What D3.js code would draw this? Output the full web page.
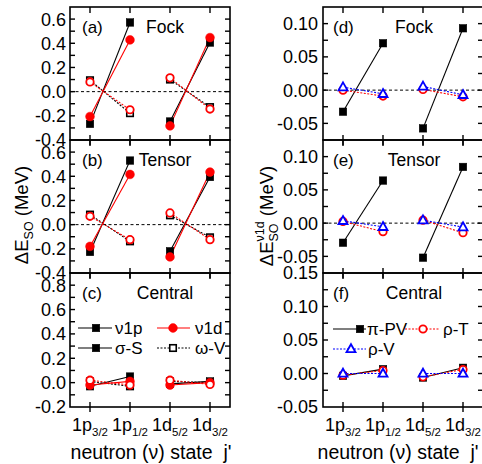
<!DOCTYPE html>
<html><head><meta charset="utf-8">
<script src="https://cdn.jsdelivr.net/npm/d3@7"></script>
<style>
html,body{margin:0;padding:0;background:#fff;}
svg{display:block;font-family:"Liberation Sans",Arial,sans-serif;}
</style></head>
<body><svg id="chart" width="482" height="464"></svg>
<script>
// ---------- data ----------
const xPositions = [1, 2, 3, 4];
const stateNames = ["1p", "1p", "1d", "1d"];
const stateSubs = ["3/2", "1/2", "5/2", "3/2"];
const panelTitles = ["Fock", "Tensor", "Central"];
const leftTags = ["(a)", "(b)", "(c)"];
const rightTags = ["(d)", "(e)", "(f)"];

// left column: ΔE_SO (MeV), black = ν1p, red = ν1d; solid = σ-S, dotted = ω-V
const fock_sigmaS_nu1p = [-0.267, 0.572, -0.247, 0.406];
const fock_sigmaS_nu1d = [-0.206, 0.428, -0.283, 0.447];
const fock_omegaV_nu1p = [0.094, -0.178, 0.100, -0.128];
const fock_omegaV_nu1d = [0.080, -0.150, 0.114, -0.144];
const tensor_sigmaS_nu1p = [-0.226, 0.530, -0.220, 0.394];
const tensor_sigmaS_nu1d = [-0.180, 0.415, -0.267, 0.435];
const tensor_omegaV_nu1p = [0.083, -0.138, 0.077, -0.105];
const tensor_omegaV_nu1d = [0.069, -0.124, 0.097, -0.124];
const central_sigmaS_nu1p = [-0.030, 0.050, -0.010, 0.010];
const central_sigmaS_nu1d = [-0.020, 0.010, -0.020, 0.000];
const central_omegaV_nu1p = [0.010, -0.030, 0.010, 0.000];
const central_omegaV_nu1d = [0.020, -0.020, 0.020, -0.015];

// right column: ΔE_SO^{ν1d} (MeV)
const fock_piPV = [-0.0325, 0.0705, -0.0575, 0.093];
const fock_rhoT = [0.000, -0.009, 0.001, -0.010];
const fock_rhoV = [0.0045, -0.0055, 0.0055, -0.007];
const tensor_piPV = [-0.0295, 0.064, -0.052, 0.0845];
const tensor_rhoT = [0.0025, -0.013, 0.0045, -0.0145];
const tensor_rhoV = [0.0035, -0.0055, 0.0045, -0.006];
const central_piPV = [-0.0035, 0.0065, -0.006, 0.0085];
const central_rhoT = [-0.0025, 0.0045, -0.005, 0.006];
const central_rhoV = [0.000, 0.000, 0.000, 0.000];

// tick labels
const leftTicksFT = [-0.4, -0.2, 0.0, 0.2, 0.4, 0.6];
const leftTicksC = [-0.2, 0.0, 0.2, 0.4, 0.6, 0.8];
const rightTicksFT = [-0.05, 0.00, 0.05, 0.10];
const rightTicksC = [-0.05, 0.00, 0.05, 0.10, 0.15];

// ---------- layout ----------
const svg = d3.select("#chart");
const FONT = 17;
const TICKFONT = 18;
const rowTop = [7, 140, 273];
const rowBot = [140, 273, 407];
const xLeft = d3.scaleLinear().domain([0.5, 4.5]).range([70, 230]);
const xRight = d3.scaleLinear().domain([0.5, 4.5]).range([323, 483]);

const styles = {
  blackFilledSq: {color: "#000", marker: "square", filled: true, dash: null, width: 1.1},
  blackOpenSq: {color: "#000", marker: "square", filled: false, dash: "2,1.5", width: 1.1},
  redFilledCirc: {color: "#ff0000", marker: "circle", filled: true, dash: null, width: 1.1},
  redOpenCirc: {color: "#ff0000", marker: "circle", filled: false, dash: "2,1.5", width: 1.1},
  blueOpenTri: {color: "#0000ff", marker: "triangle", filled: false, dash: "2,1.5", width: 1.1}
};

function drawMarker(g, type, filled, color, cx, cy) {
  if (type === "square") {
    const s = filled ? 7.5 : 6.5;
    g.append("rect").attr("x", cx - s / 2).attr("y", cy - s / 2).attr("width", s).attr("height", s)
      .attr("fill", filled ? color : "#fff").attr("stroke", color).attr("stroke-width", filled ? 0.5 : 1.6);
  } else if (type === "circle") {
    g.append("circle").attr("cx", cx).attr("cy", cy).attr("r", filled ? 4.4 : 3.7)
      .attr("fill", filled ? color : "#fff").attr("stroke", color).attr("stroke-width", filled ? 0.5 : 1.8);
  } else {
    const h = 8, w = 9;
    g.append("path").attr("d", `M${cx},${cy - h * 0.6}L${cx + w / 2},${cy + h * 0.4}L${cx - w / 2},${cy + h * 0.4}Z`)
      .attr("fill", "#fff").attr("stroke", color).attr("stroke-width", 1.8).attr("stroke-linejoin", "miter");
  }
}

function drawPanel(opt) {
  const {x, top, bottom, domain, majors, minorStep, fmt, labelX, tag, tagX, title, titleX, series, zeroLine, lastRow} = opt;
  const y = d3.scaleLinear().domain(domain).range([bottom, top]);
  const g = svg.append("g");
  const [x0, x1] = x.range();

  if (zeroLine) {
    g.append("line").attr("x1", x0).attr("x2", x1).attr("y1", y(0)).attr("y2", y(0))
      .attr("stroke", "#000").attr("stroke-width", 1).attr("stroke-dasharray", "3,2.5");
  }

  const line = d3.line().x(d => x(d[0])).y(d => y(d[1]));
  series.forEach(s => {
    const st = styles[s.style];
    const pts = xPositions.map((xv, i) => [xv, s.values[i]]);
    [pts.slice(0, 2), pts.slice(2, 4)].forEach(seg => {
      const p = g.append("path").attr("d", line(seg)).attr("fill", "none")
        .attr("stroke", st.color).attr("stroke-width", st.width);
      if (st.dash) p.attr("stroke-dasharray", st.dash);
    });
  });
  series.forEach(s => {
    const st = styles[s.style];
    xPositions.forEach((xv, i) => drawMarker(g, st.marker, st.filled, st.color, x(xv), y(s.values[i])));
  });

  g.append("rect").attr("x", x0).attr("y", top).attr("width", x1 - x0).attr("height", bottom - top)
    .attr("fill", "none").attr("stroke", "#000").attr("stroke-width", 1.6);

  const minors = d3.range(domain[0], domain[1] + 1e-9, minorStep);
  minors.forEach(v => {
    const yy = y(v);
    if (yy < top + 0.5 || yy > bottom - 0.5) return;
    g.append("line").attr("x1", x0).attr("x2", x0 + 5).attr("y1", yy).attr("y2", yy).attr("stroke", "#000").attr("stroke-width", 1.4);
    g.append("line").attr("x1", x1).attr("x2", x1 - 5).attr("y1", yy).attr("y2", yy).attr("stroke", "#000").attr("stroke-width", 1.4);
  });
  xPositions.forEach(xv => {
    g.append("line").attr("x1", x(xv)).attr("x2", x(xv)).attr("y1", top).attr("y2", top + 6).attr("stroke", "#000").attr("stroke-width", 1.4);
    g.append("line").attr("x1", x(xv)).attr("x2", x(xv)).attr("y1", bottom - 5).attr("y2", bottom + 5).attr("stroke", "#000").attr("stroke-width", 1.4);
  });

  majors.forEach(v => {
    g.append("text").attr("x", labelX).attr("y", y(v)).attr("dy", "0.36em")
      .attr("text-anchor", "end").attr("font-size", TICKFONT).text(fmt(v));
  });

  g.append("text").attr("x", tagX).attr("y", top + 26).attr("font-size", FONT).text(tag);
  g.append("text").attr("x", titleX).attr("y", top + 26).attr("text-anchor", "middle").attr("font-size", FONT + 0.5).text(title);

  if (lastRow) {
    xPositions.forEach((xv, i) => {
      const t = g.append("text").attr("x", x(xv)).attr("y", 431).attr("text-anchor", "middle").attr("font-size", TICKFONT);
      t.append("tspan").text(stateNames[i]);
      t.append("tspan").attr("font-size", 11.5).attr("dy", 5).text(stateSubs[i]);
    });
  }
  return g;
}

const fmt1 = v => v.toFixed(1);
const fmt2 = v => v.toFixed(2);

const leftSeries = [
  [fock_sigmaS_nu1p, fock_omegaV_nu1p, fock_sigmaS_nu1d, fock_omegaV_nu1d],
  [tensor_sigmaS_nu1p, tensor_omegaV_nu1p, tensor_sigmaS_nu1d, tensor_omegaV_nu1d],
  [central_sigmaS_nu1p, central_omegaV_nu1p, central_sigmaS_nu1d, central_omegaV_nu1d]
];
const leftStyles = ["blackFilledSq", "blackOpenSq", "redFilledCirc", "redOpenCirc"];
const rightSeries = [
  [fock_piPV, fock_rhoT, fock_rhoV],
  [tensor_piPV, tensor_rhoT, tensor_rhoV],
  [central_piPV, central_rhoT, central_rhoV]
];
const rightStyles = ["blackFilledSq", "redOpenCirc", "blueOpenTri"];

for (let r = 0; r < 3; r++) {
  drawPanel({
    x: xLeft, top: rowTop[r], bottom: rowBot[r],
    domain: r < 2 ? [-0.4, 0.7] : [-0.2, 0.9],
    majors: r < 2 ? leftTicksFT : leftTicksC, minorStep: 0.1, fmt: fmt1, labelX: 66,
    tag: leftTags[r], tagX: 82, title: panelTitles[r], titleX: 165,
    series: leftSeries[r].map((v, i) => ({values: v, style: leftStyles[i]})),
    zeroLine: r < 2, lastRow: r === 2
  });
  drawPanel({
    x: xRight, top: rowTop[r], bottom: rowBot[r],
    domain: r < 2 ? [-0.075, 0.125] : [-0.05, 0.15],
    majors: r < 2 ? rightTicksFT : rightTicksC, minorStep: 0.025, fmt: fmt2, labelX: 318,
    tag: rightTags[r], tagX: 333, title: panelTitles[r], titleX: 414,
    series: rightSeries[r].map((v, i) => ({values: v, style: rightStyles[i]})),
    zeroLine: r < 2, lastRow: r === 2
  });
}

// ---------- legends ----------
function legendItem(x1, x2, mx, y, styleKey, label, tx) {
  const st = styles[styleKey];
  const l = svg.append("line").attr("x1", x1).attr("x2", x2).attr("y1", y).attr("y2", y)
    .attr("stroke", st.color).attr("stroke-width", st.width);
  if (st.dash) l.attr("stroke-dasharray", st.dash);
  drawMarker(svg, st.marker, st.filled, st.color, mx, y);
  svg.append("text").attr("x", tx).attr("y", y).attr("dy", "0.36em").attr("font-size", FONT).text(label);
}
legendItem(78, 112, 96, 328, "blackFilledSq", "ν1p", 115);
legendItem(157, 190, 173, 328, "redFilledCirc", "ν1d", 195);
legendItem(78, 112, 96, 348, "blackFilledSq", "σ-S", 115);
legendItem(157, 190, 173, 348, "blackOpenSq", "ω-V", 195);
legendItem(333, 366, 360, 329, "blackFilledSq", "π-PV", 367);
legendItem(405, 440, 423, 329, "redOpenCirc", "ρ-T", 443);
legendItem(333, 366, 351, 349, "blueOpenTri", "ρ-V", 368);

// ---------- axis titles ----------
const yl = svg.append("text").attr("transform", "translate(28,215) rotate(-90)")
  .attr("text-anchor", "middle").attr("font-size", 18.5);
yl.append("tspan").text("ΔE");
yl.append("tspan").attr("font-size", 12.5).attr("dy", 5).text("SO");
yl.append("tspan").attr("dy", -5).text(" (MeV)");

const yr = svg.append("text").attr("transform", "translate(273,216) rotate(-90)")
  .attr("text-anchor", "middle").attr("font-size", 18.5);
yr.append("tspan").text("ΔE");
yr.append("tspan").attr("font-size", 12.5).attr("dy", 5).text("SO");
yr.append("tspan").attr("font-size", 12.5).attr("dx", -18).attr("dy", -14).text("ν1d");
yr.append("tspan").attr("dy", 9).text(" (MeV)");

svg.append("text").attr("x", 151).attr("y", 459).attr("text-anchor", "middle").attr("font-size", 19.5)
  .style("white-space", "pre").text("neutron (ν) state  j'");
svg.append("text").attr("x", 398).attr("y", 459).attr("text-anchor", "middle").attr("font-size", 19.5)
  .style("white-space", "pre").text("neutron (ν) state  j'");
</script></body></html>
